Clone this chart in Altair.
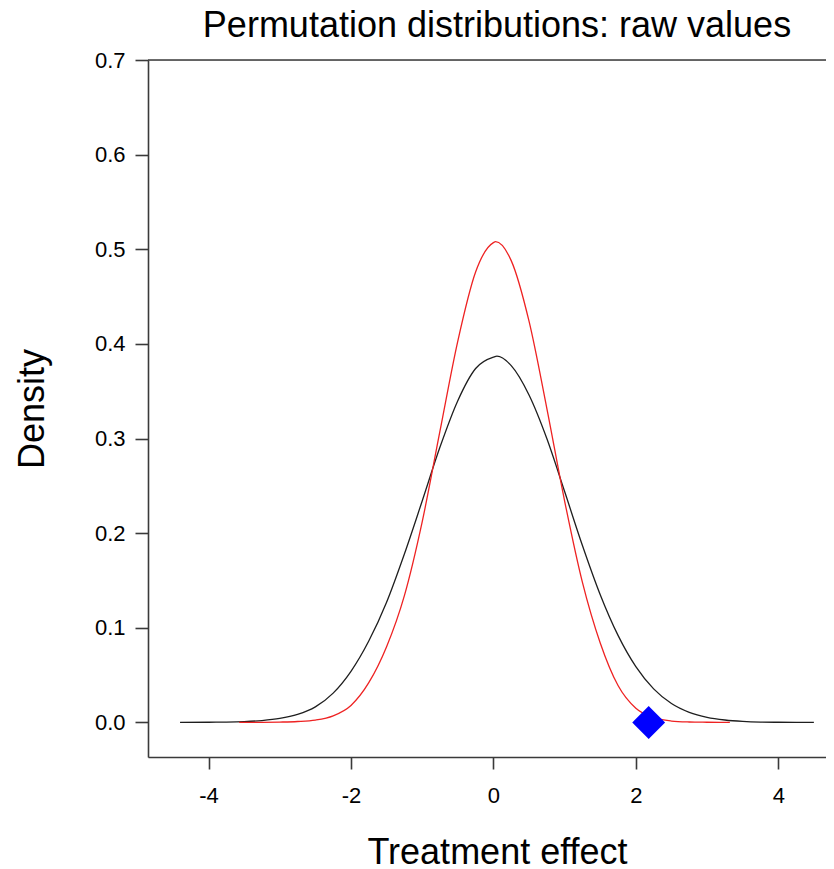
import altair as alt
import pandas as pd

# ---- data ----
black_x = [-4.4, -4.0, -3.75, -3.5, -3.25, -3.0, -2.75, -2.5, -2.25, -2.0, -1.75, -1.5,
           -1.25, -1.0, -0.75, -0.5, -0.25, 0.0, 0.05, 0.25, 0.5, 0.75, 1.0, 1.25, 1.5,
           1.75, 2.0, 2.25, 2.5, 2.75, 3.0, 3.25, 3.5, 3.75, 4.0, 4.25, 4.5]
black_y = [0.0, 0.0002, 0.0004, 0.0009, 0.0020, 0.0042, 0.0085, 0.0165, 0.031, 0.054,
           0.086, 0.127, 0.178, 0.234, 0.291, 0.340, 0.374, 0.386, 0.387, 0.377, 0.346,
           0.300, 0.244, 0.187, 0.135, 0.092, 0.059, 0.0355, 0.020, 0.0107, 0.0054,
           0.0026, 0.0011, 0.0004, 0.0002, 0.0001, 0.0]

red_x = [-3.57, -3.25, -3.0, -2.75, -2.5, -2.25, -2.0, -1.75, -1.5, -1.25, -1.0, -0.75,
         -0.5, -0.25, 0.0, 0.03, 0.25, 0.5, 0.75, 1.0, 1.25, 1.5, 1.75, 2.0, 2.25, 2.5,
         2.75, 3.0, 3.32]
red_y = [0.0, 0.0001, 0.0004, 0.0010, 0.0025, 0.0070, 0.018, 0.042, 0.080, 0.134, 0.212,
         0.308, 0.403, 0.476, 0.507, 0.508, 0.488, 0.424, 0.332, 0.234, 0.148, 0.084,
         0.039, 0.015, 0.005, 0.0015, 0.0005, 0.0002, 0.0]

obs_x = [2.18]
obs_y = [0.0]

x_ticks = [-4, -2, 0, 2, 4]
y_ticks = [0.0, 0.1, 0.2, 0.3, 0.4, 0.5, 0.6, 0.7]
top_line = [0.7]

FONT = "Liberation Sans"
AXIS_COLOR = "#3a3a3a"

df_black = pd.DataFrame({"x": black_x, "y": black_y})
df_red = pd.DataFrame({"x": red_x, "y": red_y})
df_obs = pd.DataFrame({"x": obs_x, "y": obs_y})
df_top = pd.DataFrame({"y": top_line})

xscale = alt.Scale(domain=[-4.85, 4.67], nice=False, zero=False)
yscale = alt.Scale(domain=[-0.0365, 0.7], nice=False, zero=False)

xaxis = alt.Axis(
    values=x_ticks, title="Treatment effect", grid=False,
    labelExpr="datum.value < 0 ? '-' + abs(datum.value) : '' + datum.value",
    tickSize=12, tickWidth=1.6, tickColor=AXIS_COLOR,
    domainColor=AXIS_COLOR, domainWidth=1.6,
    labelFont=FONT, labelFontSize=22, labelColor="black", labelPadding=16,
    titleFont=FONT, titleFontSize=36, titleFontWeight="normal", titleColor="black",
    titleBaseline="alphabetic", titleY=106, titleX=349,
)
yaxis = alt.Axis(
    values=y_ticks, title="Density", grid=False, format=".1f",
    tickSize=13, tickWidth=1.6, tickColor=AXIS_COLOR,
    domainColor=AXIS_COLOR, domainWidth=1.6,
    labelFont=FONT, labelFontSize=22, labelColor="black", labelPadding=10,
    titleFont=FONT, titleFontSize=36, titleFontWeight="normal", titleColor="black",
    titleBaseline="alphabetic", titleX=-105,
)

black = alt.Chart(df_black).mark_line(color="#1e1e1e", strokeWidth=1.3, interpolate="monotone").encode(
    x=alt.X("x:Q", scale=xscale, axis=xaxis),
    y=alt.Y("y:Q", scale=yscale, axis=yaxis),
)
red = alt.Chart(df_red).mark_line(color="#ee2222", strokeWidth=1.3, interpolate="monotone").encode(
    x=alt.X("x:Q", scale=xscale),
    y=alt.Y("y:Q", scale=yscale),
)
obs = alt.Chart(df_obs).mark_point(shape="diamond", filled=True, size=1080, color="#0000ff", opacity=1).encode(
    x=alt.X("x:Q", scale=xscale),
    y=alt.Y("y:Q", scale=yscale),
)
top = alt.Chart(df_top).mark_rule(color=AXIS_COLOR, strokeWidth=1.6).encode(
    y=alt.Y("y:Q", scale=yscale),
)

chart = alt.layer(black, red, obs, top).properties(
    width=678,
    height=697,
    autosize=alt.AutoSizeParams(type="none"),
    padding={"left": 140, "top": 52, "right": 0, "bottom": 112},
    title=alt.TitleParams(
        "Permutation distributions: raw values",
        font=FONT, fontSize=36, fontWeight="normal", color="black",
        anchor="middle", offset=4, dx=10,
    ),
).configure_view(strokeWidth=0).configure(background="white")

chart.save("out.html", embed_options={"renderer": "svg", "actions": False})
